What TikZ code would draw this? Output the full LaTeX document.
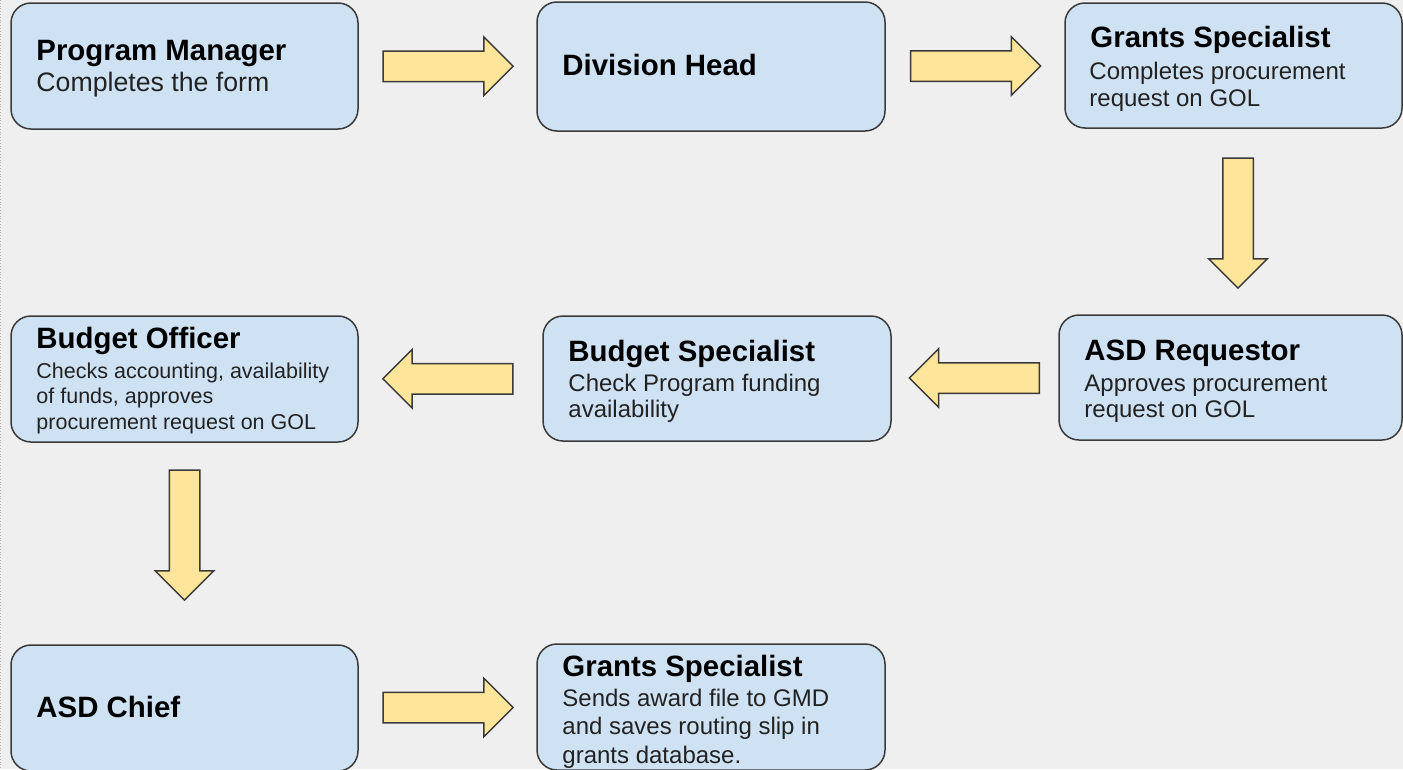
\documentclass[tikz,border=0pt]{standalone}
\usepackage{fontspec}
\setmainfont{Liberation Sans}
\usetikzlibrary{shapes.arrows,calc}
\definecolor{bgcol}{HTML}{EFEFEF}
\definecolor{boxfill}{HTML}{CFE2F3}
\definecolor{boxline}{HTML}{3A3A3A}
\definecolor{arrfill}{HTML}{FFE599}
\definecolor{subcol}{HTML}{222222}
\newcommand\hdfont{\fontsize{29.4pt}{33pt}\selectfont\bfseries}
\newcommand\subtext[3]{\parbox[t]{340pt}{\fontsize{#1}{#2}\selectfont #3}}
\begin{document}
\begin{tikzpicture}[x=1pt,y=-1pt,
  stagebox/.style={draw=boxline, line width=1.5pt, fill=boxfill, rounded corners=20pt, inner sep=0pt},
  headtxt/.style={anchor=base west, inner sep=0pt, font=\hdfont, text=black},
  subtxt/.style={anchor=base west, inner sep=0pt, text=subcol},
  flowarrow/.style={single arrow, draw=boxline, line width=1.5pt, fill=arrfill,
    minimum height=130pt, minimum width=57pt, single arrow head extend=14pt},
  harrow/.style={flowarrow, inner xsep=0pt, inner ysep=14.5pt},
  varrow/.style={flowarrow, inner xsep=14.5pt, inner ysep=0pt}
]
\useasboundingbox (0,0) rectangle (1403,769);
\fill[bgcol] (0,0) rectangle (1403,769);
\draw[gray!60, dotted, line width=0.8pt] (0.8,0) -- (0.8,769);

% boxes
\node[stagebox, minimum width=347pt, minimum height=126pt] (pm)  at (184.5,66) {};
\node[stagebox, minimum width=348pt, minimum height=129pt] (dh)  at (711,66.5) {};
\node[stagebox, minimum width=337pt, minimum height=125pt] (gs)  at (1233.5,65.5) {};
\node[stagebox, minimum width=347pt, minimum height=126pt] (bo)  at (184.5,379) {};
\node[stagebox, minimum width=348pt, minimum height=125pt] (bs)  at (717,378.5) {};
\node[stagebox, minimum width=343pt, minimum height=125pt] (ar)  at (1230.5,377.5) {};
\node[stagebox, minimum width=347pt, minimum height=126pt] (ac)  at (184.5,708) {};
\node[stagebox, minimum width=348pt, minimum height=126pt] (gs2) at (711,707) {};

% texts
\node[headtxt] (pmh) at ($(pm.north west)+(26,58)$) {Program Manager};
\node[subtxt]  (pms) at ($(pm.north west)+(26,89)$) {\subtext{26.7pt}{30pt}{Completes the form}};

\node[headtxt] (dhh) at ($(dh.north west)+(26,74)$) {Division Head};

\node[headtxt] (gsh) at ($(gs.north west)+(26,45)$) {Grants Specialist};
\node[subtxt]  (gss) at ($(gs.north west)+(25,77)$) {\subtext{24pt}{27pt}{Completes procurement\\request on GOL}};

\node[headtxt] (boh) at ($(bo.north west)+(26,33)$) {Budget Officer};
\node[subtxt]  (bos) at ($(bo.north west)+(26,63)$) {\subtext{21.5pt}{25.5pt}{Checks accounting, availability\\of funds, approves\\procurement request on GOL}};

\node[headtxt] (bsh) at ($(bs.north west)+(26,46)$) {Budget Specialist};
\node[subtxt]  (bss) at ($(bs.north west)+(26,76)$) {\subtext{24pt}{26.5pt}{Check Program funding\\availability}};

\node[headtxt] (arh) at ($(ar.north west)+(26,46)$) {ASD Requestor};
\node[subtxt]  (ars) at ($(ar.north west)+(26,77)$) {\subtext{24pt}{26.5pt}{Approves procurement\\request on GOL}};

\node[headtxt] (ach) at ($(ac.north west)+(26,73)$) {ASD Chief};

\node[headtxt] (gs2h) at ($(gs2.north west)+(26,33)$) {Grants Specialist};
\node[subtxt]  (gs2s) at ($(gs2.north west)+(26,63)$) {\subtext{24pt}{28.5pt}{Sends award file to GMD\\and saves routing slip in\\grants database.}};

% block arrows
\node[harrow] (a1) at ($(pm.east)!0.5!(dh.west)+(-7,0)$) {};
\node[harrow] (a2) at ($(dh.east)!0.5!(gs.west)+(-7,0)$) {};
\node[varrow, shape border rotate=270] (a3) at ($(gs.south)!0.5!(ar.north)+(6,-6)$) {};
\node[harrow, shape border rotate=180] (a4) at ($(ar.west)!0.5!(bs.east)+(7,0)$) {};
\node[harrow, shape border rotate=180] (a5) at ($(bs.west)!0.5!(bo.east)+(5,0)$) {};
\node[varrow, shape border rotate=270] (a6) at ($(bo.south)!0.5!(ac.north)+(0,-16)$) {};
\node[harrow] (a7) at ($(ac.east)!0.5!(gs2.west)+(-7,0)$) {};
\end{tikzpicture}
\end{document}
